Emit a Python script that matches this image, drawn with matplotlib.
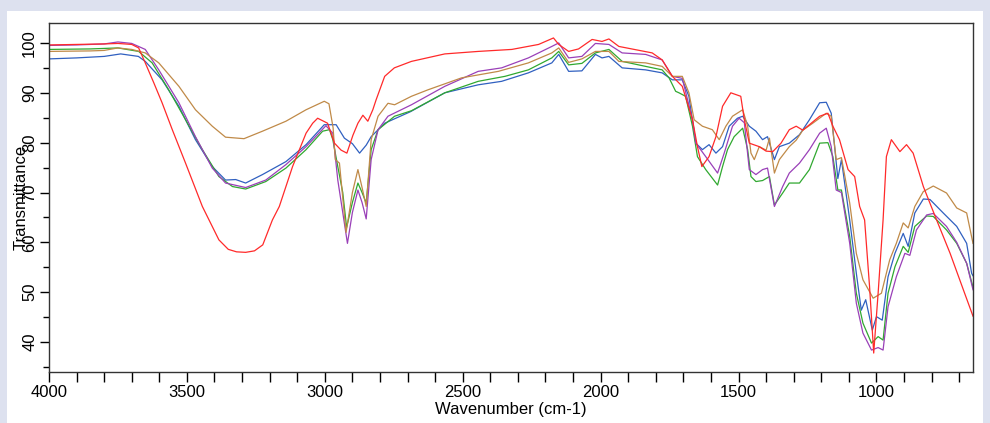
import matplotlib
matplotlib.use("Agg")
import matplotlib.pyplot as plt
from matplotlib.patches import Rectangle
from matplotlib.ticker import MultipleLocator

plt.rcParams['font.family'] = ['Liberation Sans', 'DejaVu Sans']

# spectra (wavenumber, transmittance)
red_x = [4000, 3900, 3800, 3750, 3700, 3675, 3651, 3620, 3590, 3553, 3505, 3444, 3384, 3350, 3320,
         3287, 3255, 3225, 3190, 3165, 3117, 3068, 3044, 3026, 2990, 2965, 2941, 2920, 2898, 2880,
         2862, 2844, 2826, 2814, 2783, 2748, 2686, 2565, 2444, 2322, 2225, 2171, 2152, 2116, 2080,
         2031, 1995, 1970, 1934, 1813, 1777, 1740, 1704, 1667, 1649, 1633, 1607, 1582, 1558, 1528,
         1492, 1479, 1461, 1425, 1400, 1376, 1346, 1316, 1291, 1267, 1243, 1206, 1176, 1158, 1134,
         1103, 1079, 1061, 1043, 1025, 1010, 994, 976, 964, 946, 915, 891, 867, 830, 782,
         733, 685, 650]
red_y = [99.6, 99.7, 99.8, 99.9, 99.7, 99.0, 96.0, 92.0, 88.0, 82.6, 75.9, 67.2, 60.5, 58.6, 58.1,
         58.0, 58.3, 59.5, 64.5, 67.2, 75.2, 81.9, 83.9, 84.9, 83.9, 79.9, 78.5, 77.9, 81.5, 83.9,
         85.5, 84.3, 86.6, 88.6, 93.3, 95.0, 96.3, 97.8, 98.3, 98.7, 99.7, 101.0, 99.7, 98.3, 98.8,
         100.7, 100.3, 100.8, 99.3, 98.0, 96.6, 93.3, 91.3, 84.6, 79.2, 75.2, 77.2, 81.2, 87.3, 90.0,
         89.3, 84.6, 79.9, 79.2, 78.3, 78.2, 79.9, 82.6, 83.3, 82.5, 83.6, 85.3, 85.9, 83.3, 80.6,
         74.6, 73.2, 67.2, 64.5, 51.1, 37.8, 49.8, 64.5, 77.2, 80.6, 78.2, 79.6, 77.9, 71.2, 64.5,
         57.8, 50.5, 45.2]

brown_x = [4000, 3850, 3800, 3750, 3700, 3651, 3602, 3529, 3469, 3408, 3360, 3293, 3226, 3141, 3068,
           3002, 2985, 2970, 2962, 2947, 2923, 2900, 2880, 2865, 2850, 2832, 2807, 2771, 2747, 2686,
           2626, 2504, 2371, 2262, 2177, 2152, 2116, 2068, 2019, 1970, 1934, 1837, 1777, 1740, 1704,
           1680, 1661, 1631, 1595, 1570, 1546, 1522, 1485, 1467, 1455, 1443, 1425, 1400, 1388, 1370,
           1352, 1316, 1291, 1267, 1231, 1182, 1164, 1146, 1127, 1097, 1073, 1049, 1012, 982, 952,
           928, 903, 885, 861, 830, 794, 746, 709, 673, 650]
brown_y = [98.3, 98.4, 98.5, 99.0, 98.7, 98.0, 96.0, 91.3, 86.6, 83.3, 81.1, 80.8, 82.3, 84.3, 86.6,
           88.3, 87.8, 83.0, 76.6, 75.9, 62.0, 70.0, 74.6, 71.0, 67.2, 80.6, 85.3, 87.9, 87.6, 89.3,
           90.6, 93.0, 94.3, 96.0, 98.0, 99.0, 96.1, 96.8, 98.3, 98.3, 96.3, 96.0, 95.3, 93.3, 93.3,
           90.0, 84.6, 83.3, 82.6, 80.6, 83.3, 85.3, 86.6, 83.3, 77.9, 76.6, 79.2, 78.5, 80.9, 73.9,
           76.6, 79.2, 80.5, 82.5, 83.9, 85.9, 85.3, 76.6, 77.0, 67.9, 57.8, 52.5, 48.8, 49.8, 56.5,
           59.8, 63.9, 62.9, 67.2, 70.2, 71.3, 69.9, 66.9, 65.9, 59.8]

blue_x = [4000, 3900, 3800, 3740, 3676, 3651, 3590, 3529, 3469, 3408, 3360, 3323, 3287, 3226, 3141,
          3068, 3002, 2959, 2929, 2900, 2874, 2850, 2832, 2783, 2690, 2565, 2444, 2359, 2262, 2177,
          2152, 2116, 2068, 2019, 1995, 1970, 1922, 1837, 1777, 1740, 1704, 1680, 1655, 1631, 1607,
          1582, 1558, 1534, 1504, 1485, 1461, 1437, 1413, 1395, 1370, 1352, 1316, 1279, 1243, 1206,
          1182, 1164, 1140, 1127, 1097, 1073, 1055, 1039, 1015, 1000, 979, 958, 933, 903, 885,
          861, 830, 806, 758, 709, 673, 655, 650]
blue_y = [96.8, 97.0, 97.3, 97.8, 97.3, 96.3, 92.6, 87.3, 80.6, 75.2, 72.5, 72.6, 71.9, 73.6, 76.2,
          79.6, 83.6, 83.6, 80.9, 79.8, 77.9, 79.5, 81.2, 83.9, 86.2, 90.0, 91.6, 92.3, 94.0, 96.0,
          97.7, 94.3, 94.4, 97.7, 97.0, 97.3, 95.0, 94.6, 94.0, 92.6, 92.6, 89.3, 79.9, 78.6, 79.6,
          77.9, 79.2, 83.3, 84.9, 85.3, 83.3, 82.3, 80.6, 81.2, 76.6, 79.2, 79.9, 81.6, 84.6, 88.0,
          88.1, 85.9, 72.8, 76.6, 64.5, 53.8, 46.4, 48.5, 42.4, 45.1, 44.4, 53.1, 57.8, 61.8, 59.2,
          65.9, 68.7, 68.6, 65.9, 63.2, 59.8, 53.8, 53.3]

green_x = [4000, 3850, 3750, 3675, 3626, 3566, 3505, 3444, 3384, 3335, 3287, 3214, 3141, 3068, 3008,
           2983, 2971, 2953, 2935, 2921, 2900, 2880, 2865, 2850, 2832, 2807, 2747, 2686, 2565, 2444,
           2347, 2262, 2177, 2152, 2116, 2068, 2019, 1970, 1922, 1837, 1777, 1752, 1728, 1716, 1692,
           1667, 1649, 1619, 1576, 1558, 1540, 1516, 1485, 1467, 1455, 1437, 1413, 1388, 1370, 1340,
           1316, 1279, 1243, 1206, 1176, 1158, 1140, 1127, 1097, 1073, 1049, 1018, 994, 976, 958,
           933, 903, 885, 861, 818, 794, 746, 709, 673, 650]
green_y = [98.7, 98.8, 99.0, 98.3, 96.0, 90.6, 84.6, 78.6, 73.2, 71.2, 70.7, 72.2, 74.9, 78.6, 82.3,
           82.6, 80.6, 75.2, 70.0, 63.0, 68.0, 71.9, 70.0, 67.9, 78.6, 82.6, 85.3, 86.4, 90.0, 92.3,
           93.3, 94.6, 97.0, 98.3, 95.6, 95.9, 98.0, 98.7, 96.3, 95.3, 94.6, 93.0, 90.3, 90.0, 89.3,
           83.3, 77.2, 74.6, 71.5, 75.2, 78.6, 81.2, 82.9, 78.6, 73.2, 72.2, 72.4, 73.2, 67.5, 69.9,
           71.9, 71.9, 74.6, 79.9, 80.0, 77.2, 70.5, 70.5, 61.2, 49.8, 43.8, 39.8, 41.1, 40.4, 49.8,
           55.1, 59.2, 58.0, 63.2, 65.3, 65.2, 62.5, 59.8, 55.8, 51.0]

purple_x = [4000, 3900, 3800, 3750, 3700, 3651, 3602, 3529, 3469, 3408, 3360, 3287, 3214, 3141, 3068,
            2996, 2971, 2953, 2935, 2918, 2900, 2880, 2865, 2850, 2832, 2807, 2771, 2686, 2565, 2444,
            2359, 2262, 2177, 2152, 2116, 2068, 2019, 1970, 1922, 1837, 1777, 1740, 1704, 1667, 1655,
            1619, 1576, 1552, 1522, 1498, 1479, 1461, 1437, 1413, 1395, 1370, 1340, 1316, 1279, 1243,
            1206, 1182, 1164, 1146, 1127, 1097, 1073, 1049, 1018, 994, 976, 958, 928, 897, 879,
            855, 818, 794, 746, 709, 673, 650]
purple_y = [99.5, 99.6, 99.8, 100.2, 99.9, 98.7, 94.6, 88.0, 81.2, 74.9, 71.9, 71.0, 72.5, 75.6, 79.2,
            83.4, 81.9, 72.5, 66.0, 59.8, 66.0, 70.5, 68.0, 64.7, 76.6, 82.6, 85.3, 87.6, 91.3, 94.3,
            95.0, 97.0, 99.3, 100.0, 97.0, 97.3, 99.9, 99.7, 98.0, 97.7, 96.6, 93.3, 92.9, 84.6, 79.9,
            77.2, 73.9, 77.9, 83.3, 84.9, 84.0, 74.6, 73.6, 74.6, 74.9, 67.2, 71.2, 73.9, 75.9, 78.6,
            81.9, 82.9, 79.2, 70.5, 70.0, 59.8, 47.8, 41.8, 38.4, 38.9, 38.4, 47.1, 53.1, 57.8, 57.4,
            62.5, 65.5, 65.8, 63.2, 60.0, 55.8, 50.5]

fig = plt.figure(figsize=(9.9, 4.23), dpi=100, facecolor='#dde1ef')
fig.add_artist(Rectangle((7 / 990, 0), 976 / 990, 412 / 423, transform=fig.transFigure,
                         facecolor='white', edgecolor='none', zorder=0))

ax = fig.add_axes([49 / 990, 1 - 372 / 423, 924 / 990, 349 / 423])
ax.set_facecolor('white')

lw = 0.9
ax.plot(blue_x, blue_y, color='#3060c0', lw=lw)
ax.plot(green_x, green_y, color='#30a830', lw=lw)
ax.plot(purple_x, purple_y, color='#9a40b8', lw=lw)
ax.plot(brown_x, brown_y, color='#c08a48', lw=lw)
ax.plot(red_x, red_y, color='#ff2a2a', lw=lw)

ax.set_xlim(4000, 650)
ax.set_ylim(34, 104)
ax.xaxis.set_major_locator(MultipleLocator(500))
ax.xaxis.set_minor_locator(MultipleLocator(100))
ax.yaxis.set_major_locator(MultipleLocator(10))
ax.yaxis.set_minor_locator(MultipleLocator(5))

ax.tick_params(axis='x', which='both', direction='out', length=7, width=1, labelsize=12, pad=2)
ax.tick_params(axis='y', which='major', direction='out', length=6.5, width=1, labelsize=12, pad=2)
ax.tick_params(axis='y', which='minor', direction='out', length=4.5, width=1)
plt.setp(ax.get_yticklabels(), rotation=90, va='center')

for s in ax.spines.values():
    s.set_color('#333333')
    s.set_linewidth(1)

ax.set_xlabel('Wavenumber (cm-1)', fontsize=12)
ax.xaxis.set_label_coords(0.5, -0.085)
ax.set_ylabel('Transmittance', fontsize=12)
ax.yaxis.set_label_coords(-0.022, 0.5)

fig.savefig('out.png', dpi=100, facecolor=fig.get_facecolor())
